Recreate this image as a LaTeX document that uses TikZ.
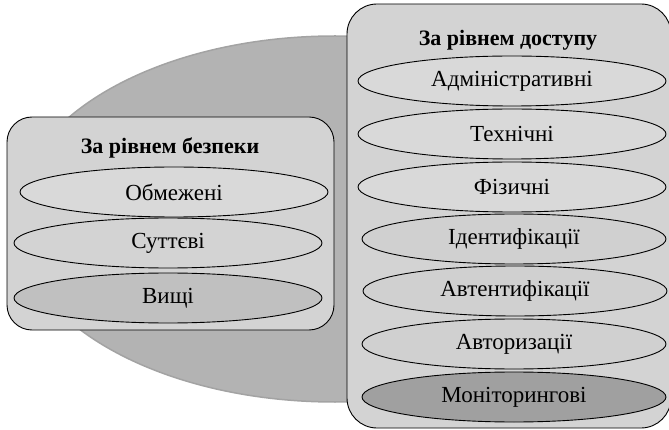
\documentclass[tikz,border=0pt]{standalone}
\usepackage{fontspec}
\setmainfont{Liberation Serif}
\usepackage{xcolor}
\usepackage{tikz}
\usetikzlibrary{shapes.geometric, positioning}
\definecolor{bigfill}{HTML}{B3B3B3}
\definecolor{bigline}{HTML}{A3A3A3}
\definecolor{boxfill}{HTML}{D3D3D3}
\definecolor{light}{HTML}{D9D9D9}
\definecolor{mid}{HTML}{D0D0D0}
\definecolor{deep}{HTML}{C0C0C0}
\definecolor{dark}{HTML}{A0A0A0}

\begin{document}
\begin{tikzpicture}
  [
    x=1pt, y=-1pt,
    Big/.style={ellipse, draw=bigline, fill=bigfill, line width=1.5pt, minimum width=640pt, minimum height=366pt},
    Group/.style={rectangle, draw=black, fill=boxfill, line width=0.9pt},
    Item/.style={ellipse, draw=black, fill=#1, line width=0.9pt, inner sep=0pt,
      minimum width=308pt, minimum height=50pt, font=\rmfamily\fontsize{23}{26}\selectfont},
    Title/.style={font=\rmfamily\bfseries\fontsize{22}{26}\selectfont}
  ]
  \useasboundingbox (0, 0) rectangle (669, 430);
  % Background
  \node[Big] (base) at(335, 219) {};
  % Groups
  \node[Group, rounded corners=25pt, minimum width=327pt, minimum height=213pt] (safety) at(170.5, 223.5) {};
  \node[Group, rounded corners=30pt, minimum width=324pt, minimum height=424pt] (access) at(509, 216) {};
  % Titles
  \node[Title] (safetyTitle) at(170, 148) {За рівнем безпеки};
  \node[Title] (accessTitle) at(508, 40) {За рівнем доступу};
  % Safety levels
  \node[Item=light] (limited) at(174, 192) {Обмежені};
  \node[Item=boxfill] (essential) at(168, 243) {Суттєві};
  \node[Item=deep] (highest) at(168, 298) {Вищі};
  % Access levels
  \node[Item=light] (admin) at(512, 81) {Адміністративні};
  \node[Item=light] (tech) at(512, 134) {Технічні};
  \node[Item=light] (phys) at(512, 187) {Фізичні};
  \node[Item=mid, minimum width=304pt] (ident) at(514, 239) {Ідентифікації};
  \node[Item=mid, minimum width=304pt] (authn) at(515, 291) {Автентифікації};
  \node[Item=mid, minimum width=304pt] (authz) at(514, 344) {Авторизації};
  \node[Item=dark, minimum width=304pt] (monitor) at(514, 397) {Моніторингові};
\end{tikzpicture}
\end{document}
